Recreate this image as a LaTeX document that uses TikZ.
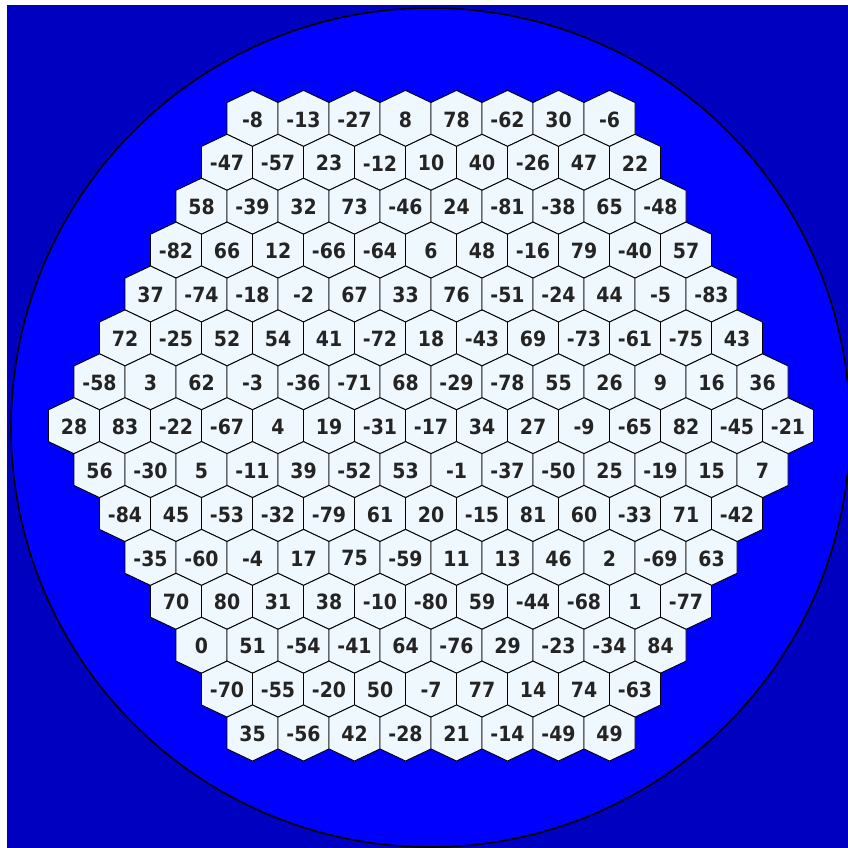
\documentclass[tikz,border=0pt]{standalone}
\usepackage{fontspec}
\setmainfont{DejaVu Sans}
\newfontfamily\numfont{DejaVu Sans Condensed}
\definecolor{bgdark}{RGB}{0,0,192}
\definecolor{circblue}{RGB}{0,0,255}
\definecolor{cellfill}{RGB}{240,248,255}
\definecolor{numtext}{RGB}{36,36,36}
\tikzset{
  hexcell/.style={draw=black, line width=0.9pt, fill=cellfill, line join=miter},
  lbl/.style={inner sep=0pt, text=numtext, font=\numfont\bfseries\fontsize{21pt}{21pt}\selectfont},
  ring/.style={draw=black, line width=1.6pt, fill=circblue}
}
\begin{document}
\begin{tikzpicture}[x=1pt,y=-1pt]
\useasboundingbox (0,0) rectangle (848,848);
\fill[white] (0,0) rectangle (848,848);
\fill[bgdark] (7,5) rectangle (848,848);
\path[ring] (430.5,427.5) circle[radius=419.5pt];
\foreach \r/\vals in {
 0/{-8,-13,-27,8,78,-62,30,-6},
 1/{-47,-57,23,-12,10,40,-26,47,22},
 2/{58,-39,32,73,-46,24,-81,-38,65,-48},
 3/{-82,66,12,-66,-64,6,48,-16,79,-40,57},
 4/{37,-74,-18,-2,67,33,76,-51,-24,44,-5,-83},
 5/{72,-25,52,54,41,-72,18,-43,69,-73,-61,-75,43},
 6/{-58,3,62,-3,-36,-71,68,-29,-78,55,26,9,16,36},
 7/{28,83,-22,-67,4,19,-31,-17,34,27,-9,-65,82,-45,-21},
 8/{56,-30,5,-11,39,-52,53,-1,-37,-50,25,-19,15,7},
 9/{-84,45,-53,-32,-79,61,20,-15,81,60,-33,71,-42},
 10/{-35,-60,-4,17,75,-59,11,13,46,2,-69,63},
 11/{70,80,31,38,-10,-80,59,-44,-68,1,-77},
 12/{0,51,-54,-41,64,-76,29,-23,-34,84},
 13/{-70,-55,-20,50,-7,77,14,74,-63},
 14/{35,-56,42,-28,21,-14,-49,49}}{
  \pgfmathsetmacro{\n}{15-abs(\r-7)}
  \pgfmathsetmacro{\cy}{425.7+(\r-7)*43.9}
  \foreach \v [count=\c from 0] in \vals {
    \pgfmathsetmacro{\cx}{431+(\c-(\n-1)/2)*51}
    \path[hexcell] (\cx,\cy) +(0,-28) -- +(25.5,-15.9) -- +(25.5,15.9) -- +(0,28) -- +(-25.5,15.9) -- +(-25.5,-15.9) -- cycle;
    \node[lbl] (h\r-\c) at (\cx,\cy+1) {\v};
  }
}
\end{tikzpicture}
\end{document}
